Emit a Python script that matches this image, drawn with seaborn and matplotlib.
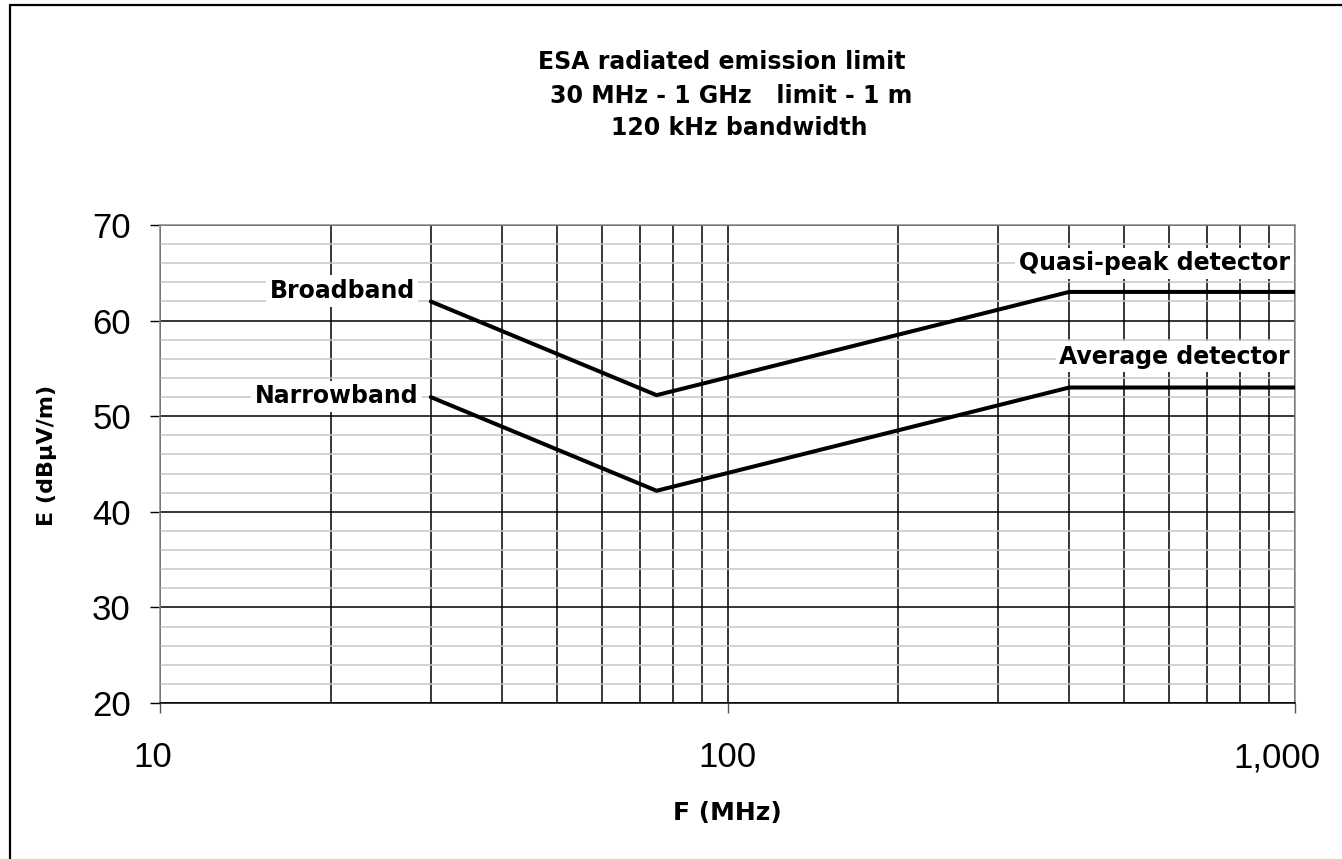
import matplotlib
matplotlib.use("Agg")
import matplotlib.pyplot as plt
from matplotlib.ticker import FixedLocator, MultipleLocator, NullFormatter
from matplotlib.lines import Line2D
from matplotlib.transforms import ScaledTranslation
import seaborn as sns
import pandas as pd

# ---- data ----
freq_mhz = [30, 75, 400, 1000]
broadband = [62, 52.2, 63, 63]
narrowband = [52, 42.2, 53, 53]
x_major = [10, 100, 1000]
x_major_labels = ["10", "100", "1,000"]
x_minor = [20, 30, 40, 50, 60, 70, 80, 90, 200, 300, 400, 500, 600, 700, 800, 900]
y_major = [20, 30, 40, 50, 60, 70]
title_lines = ["ESA radiated emission limit", "30 MHz - 1 GHz   limit - 1 m", "120 kHz bandwidth"]

df = pd.DataFrame({
    "F": freq_mhz * 2,
    "E": broadband + narrowband,
    "series": ["Broadband"] * len(freq_mhz) + ["Narrowband"] * len(freq_mhz),
})

sns.set_style("white")
plt.rcParams["font.family"] = ["Liberation Sans", "DejaVu Sans"]
plt.rcParams["text.color"] = "black"

W, H = 1342, 859
fig = plt.figure(figsize=(W / 100, H / 100), dpi=100)
ax = fig.add_axes([160 / W, 1 - 703 / H, 1135 / W, 478 / H])

sns.lineplot(data=df, x="F", y="E", hue="series", palette=["black", "black"],
             estimator=None, sort=False, linewidth=2.9, legend=False, ax=ax, zorder=4)

ax.set_xscale("log")
ax.set_xlim(10, 1000)
ax.set_ylim(20, 70)
ax.xaxis.set_major_locator(FixedLocator(x_major))
ax.set_xticklabels(x_major_labels)
ax.xaxis.set_minor_locator(FixedLocator(x_minor))
ax.xaxis.set_minor_formatter(NullFormatter())
ax.yaxis.set_major_locator(FixedLocator(y_major))
ax.yaxis.set_minor_locator(MultipleLocator(2))
ax.set_xlabel("")
ax.set_ylabel("")

ax.set_axisbelow(True)
ax.grid(which="major", axis="both", color="black", linewidth=1.1)
ax.grid(which="minor", axis="x", color="black", linewidth=1.1)
ax.grid(which="minor", axis="y", color="#c8c8c8", linewidth=1.1)
for t in ax.xaxis.get_minor_ticks():
    if t.get_loc() in (40, 300):
        t.gridline.set_color("#8a8a8a")

ax.tick_params(axis="both", which="major", labelsize=25, colors="black",
               length=7.5, width=1.0, direction="out", bottom=True, left=True)
ax.tick_params(axis="x", which="major", pad=20, color="#555555")
ax.tick_params(axis="y", which="major", pad=13.5)
ax.tick_params(which="minor", length=0)

# Excel-like label placement for the end labels
xlabels = ax.get_xticklabels()
xlabels[0].set_transform(xlabels[0].get_transform() + ScaledTranslation(-7 / 100, 0, fig.dpi_scale_trans))
xlabels[-1].set_transform(xlabels[-1].get_transform() + ScaledTranslation(-18 / 100, 0, fig.dpi_scale_trans))

for s in ["left", "top", "right"]:
    ax.spines[s].set_color("#8a8a8a")
    ax.spines[s].set_linewidth(1.1)
ax.spines["bottom"].set_color("black")
ax.spines["bottom"].set_linewidth(1.1)

bold = dict(family="DejaVu Sans", fontweight="bold", fontsize=17, color="black")
box = dict(facecolor="white", edgecolor="none", pad=2.5)
ax.text(28.1, 63.1, "Broadband", ha="right", va="center", bbox=box, zorder=3, **bold)
ax.text(28.5, 52.1, "Narrowband", ha="right", va="center", bbox=box, zorder=3, **bold)
ax.text(980, 66.0, "Quasi-peak detector", ha="right", va="center", bbox=box, zorder=3, **bold)
ax.text(980, 56.2, "Average detector", ha="right", va="center", bbox=box, zorder=3, **bold)

fig.text(722 / W, 1 - 62 / H, title_lines[0], ha="center", va="center", **bold)
fig.text(731 / W, 1 - 96 / H, title_lines[1], ha="center", va="center", **bold)
fig.text(739 / W, 1 - 128 / H, title_lines[2], ha="center", va="center", **bold)

fig.text(727 / W, 1 - 813 / H, "F (MHz)", ha="center", va="center", color="black",
         family="DejaVu Sans", fontweight="bold", fontsize=18)
fig.text(47 / W, 1 - 455 / H, "E (dBμV/m)", ha="center", va="center", rotation=90,
         color="black", family="DejaVu Sans", fontweight="bold", fontsize=16)

# outer frame (left and top edges)
fig.add_artist(Line2D([10 / W, 10 / W], [0, 1 - 5 / H], color="black", linewidth=1.6,
                      transform=fig.transFigure))
fig.add_artist(Line2D([10 / W, 1], [1 - 5 / H, 1 - 5 / H], color="black", linewidth=1.6,
                      transform=fig.transFigure))

fig.savefig("out.png", dpi=100, facecolor="white")
